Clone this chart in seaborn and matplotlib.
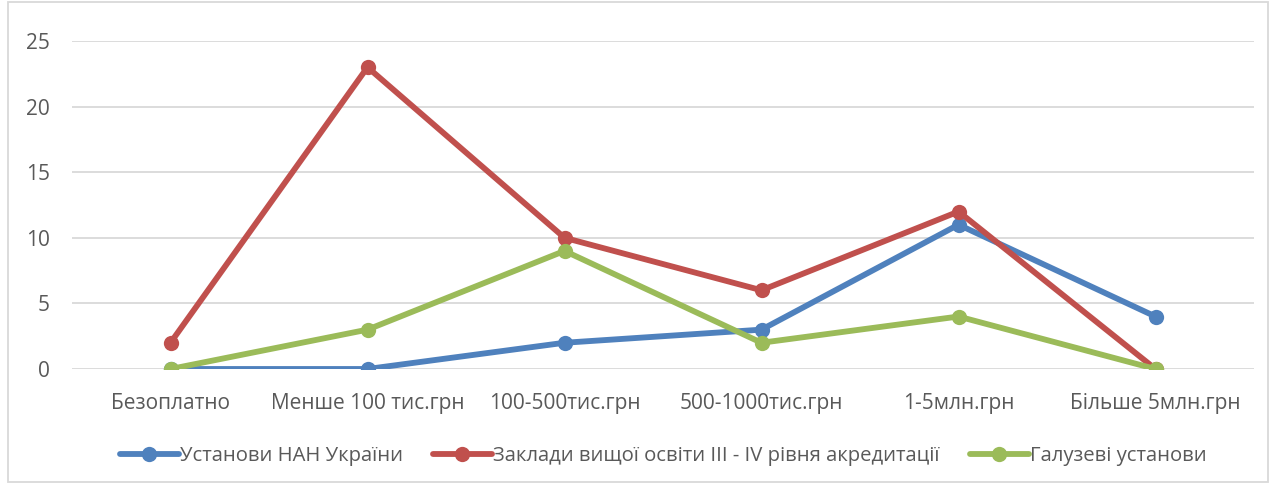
import matplotlib
matplotlib.use("Agg")
import matplotlib.pyplot as plt
import seaborn as sns
import pandas as pd
from matplotlib.patches import Rectangle

categories = ["Безоплатно", "Менше 100 тис.грн", "100-500тис.грн",
              "500-1000тис.грн", "1-5млн.грн", "Більше 5млн.грн"]
series_names = ["Установи НАН України",
                "Заклади вищої освіти ІІІ - IV рівня акредитації",
                "Галузеві установи"]
nan_values = [0, 0, 2, 3, 11, 4]
zvo_values = [2, 23, 10, 6, 12, 0]
galuz_values = [0, 3, 9, 2, 4, 0]
colors = ["#4F81BD", "#C0504D", "#9BBB59"]
yticks = [0, 5, 10, 15, 20, 25]

rows = []
for name, vals in zip(series_names, [nan_values, zvo_values, galuz_values]):
    for i, (c, v) in enumerate(zip(categories, vals)):
        rows.append({"idx": i, "cat": c, "series": name, "value": v})
df = pd.DataFrame(rows)

sns.set_style("white")
plt.rcParams['font.family'] = ['Open Sans', 'DejaVu Sans']

fig = plt.figure(figsize=(12.76, 4.84), dpi=100)
ax = fig.add_axes([72/1276, 1-369/484, (1254-72)/1276, (369-41)/484])

sns.lineplot(data=df, x="idx", y="value", hue="series", hue_order=series_names,
             palette=colors, marker="o", markersize=11, markeredgewidth=0,
             linewidth=4.2, ax=ax, legend=True, sort=False)

ax.set_xlim(-0.5, 5.5)
ax.set_ylim(0, 25)
ax.set_yticks(yticks)
ax.set_xticks(range(len(categories)))
ax.set_xticklabels(categories)
ax.set_xlabel("")
ax.set_ylabel("")
ax.grid(axis="y", color="#D9D9D9", linewidth=1.3)
ax.set_axisbelow(True)
for s in ax.spines.values():
    s.set_visible(False)
ax.tick_params(axis="both", length=0, labelsize=15, colors="#595959")
ax.tick_params(axis="y", pad=16)
ax.tick_params(axis="x", pad=17)

handles, labels = ax.get_legend_handles_labels()
ax.legend(handles, labels, loc="center", bbox_to_anchor=(0.5, -0.265), ncol=3,
          frameon=False, fontsize=14.6, labelcolor="#595959",
          handlelength=2.9, handletextpad=0.05, columnspacing=1.5)

fig.patches.append(Rectangle((8/1276, 2/484), 1-16/1276, 1-4/484,
                             transform=fig.transFigure, fill=False,
                             edgecolor="#D9D9D9", linewidth=1.3))

fig.savefig("out.png", dpi=100)
